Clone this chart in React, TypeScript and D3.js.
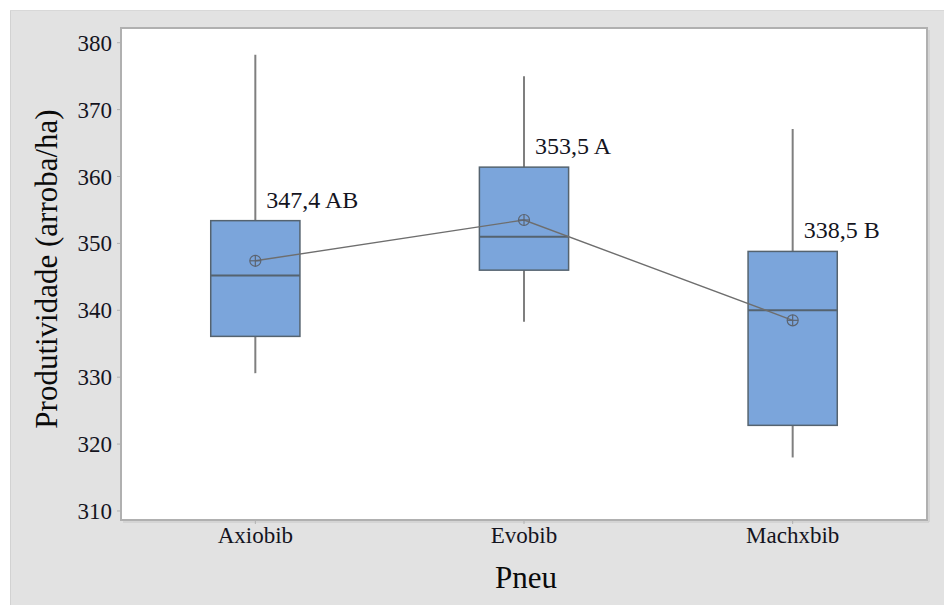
import React from "react";
import * as d3 from "d3";

const categories = ["Axiobib", "Evobib", "Machxbib"];
const whiskerLow = [330.6, 338.3, 318.0];
const q1 = [336.1, 346.0, 322.8];
const median = [345.2, 351.0, 340.0];
const q3 = [353.4, 361.4, 348.8];
const whiskerHigh = [378.2, 375.0, 367.1];
const means = [347.4, 353.5, 338.5];
const meanLabels = ["347,4 AB", "353,5 A", "338,5 B"];
const yTicks = [310, 320, 330, 340, 350, 360, 370, 380];

const W = 944;
const H = 605;
const plot = { left: 121, right: 927, top: 28, bottom: 520 };
const FONT = "'Liberation Serif', 'Times New Roman', serif";

export default function App() {
  const x = d3
    .scalePoint<string>()
    .domain(categories)
    .range([plot.left, plot.right])
    .padding(0.5);
  const y = d3.scaleLinear().domain([308.65, 382.2]).range([plot.bottom, plot.top]);
  const boxW = x.step() * 0.332;
  const meanLine = d3
    .line<number>()
    .x((_, i) => x(categories[i]) as number)
    .y((d) => y(d));

  return (
    <div style={{ position: "absolute", left: 0, top: 0 }}>
      <svg width={W} height={H} style={{ display: "block" }} fontFamily={FONT}>
        <rect x={0} y={0} width={W} height={H} fill="#ffffff" />
        <rect x={10} y={10} width={W - 10} height={H - 10} fill="#e2e2e2" />
        <line x1={10.5} y1={10} x2={10.5} y2={H} stroke="#d2d2d2" strokeWidth={1} />
        <line x1={10} y1={10.5} x2={W} y2={10.5} stroke="#d8d8d8" strokeWidth={1} />
        <rect
          x={plot.left}
          y={plot.top}
          width={plot.right - plot.left}
          height={plot.bottom - plot.top}
          fill="#ffffff"
          stroke="#b0b0b0"
          strokeWidth={2}
        />
        <line x1={plot.right + 2} x2={plot.right + 2} y1={plot.top + 2} y2={plot.bottom + 2} stroke="#cfcfcf" strokeWidth={1.5} />
        <line x1={plot.left + 2} x2={plot.right + 2} y1={plot.bottom + 2} y2={plot.bottom + 2} stroke="#cfcfcf" strokeWidth={1.5} />
        {yTicks.map((t) => (
          <g key={t}>
            <line x1={plot.left - 4} x2={plot.left} y1={y(t)} y2={y(t)} stroke="#b0b0b0" strokeWidth={1} />
            <text x={plot.left - 9} y={y(t)} dy="0.35em" textAnchor="end" fontSize={23} fill="#14141e">
              {t}
            </text>
          </g>
        ))}
        {categories.map((c) => (
          <g key={c}>
            <line x1={x(c)} x2={x(c)} y1={plot.bottom} y2={plot.bottom + 4} stroke="#b0b0b0" strokeWidth={1} />
            <text x={x(c)} y={plot.bottom + 23} textAnchor="middle" fontSize={23} fill="#14141e">
              {c}
            </text>
          </g>
        ))}
        <text
          transform={`translate(57, ${(plot.top + plot.bottom) / 2 - 5}) rotate(-90)`}
          textAnchor="middle"
          fontSize={31}
          fill="#0a0a0a"
        >
          Produtividade (arroba/ha)
        </text>
        <text x={(plot.left + plot.right) / 2 + 2} y={588} textAnchor="middle" fontSize={31} fill="#0a0a0a">
          Pneu
        </text>
        {categories.map((c, i) => {
          const cx = x(c) as number;
          return (
            <g key={c}>
              <line x1={cx} x2={cx} y1={y(whiskerHigh[i])} y2={y(q3[i])} stroke="#7f7f7f" strokeWidth={2} />
              <line x1={cx} x2={cx} y1={y(q1[i])} y2={y(whiskerLow[i])} stroke="#7f7f7f" strokeWidth={2} />
              <rect
                x={cx - boxW / 2}
                y={y(q3[i])}
                width={boxW}
                height={y(q1[i]) - y(q3[i])}
                fill="#7ba5db"
                stroke="#55636f"
                strokeWidth={1.5}
              />
              <line
                x1={cx - boxW / 2}
                x2={cx + boxW / 2}
                y1={y(median[i])}
                y2={y(median[i])}
                stroke="#55636f"
                strokeWidth={2}
              />
            </g>
          );
        })}
        <path d={meanLine(means) ?? ""} fill="none" stroke="#6e6e6e" strokeWidth={1.4} />
        {categories.map((c, i) => {
          const cx = x(c) as number;
          const cy = y(means[i]);
          return (
            <g key={c} stroke="#5c6470" strokeWidth={1.2} fill="none">
              <circle cx={cx} cy={cy} r={5.5} />
              <line x1={cx - 5.5} x2={cx + 5.5} y1={cy} y2={cy} />
              <line x1={cx} x2={cx} y1={cy - 5.5} y2={cy + 5.5} />
            </g>
          );
        })}
        {categories.map((c, i) => (
          <text key={c} x={(x(c) as number) + 11} y={y(q3[i]) - 13} fontSize={24} fill="#14141e">
            {meanLabels[i]}
          </text>
        ))}
      </svg>
    </div>
  );
}
